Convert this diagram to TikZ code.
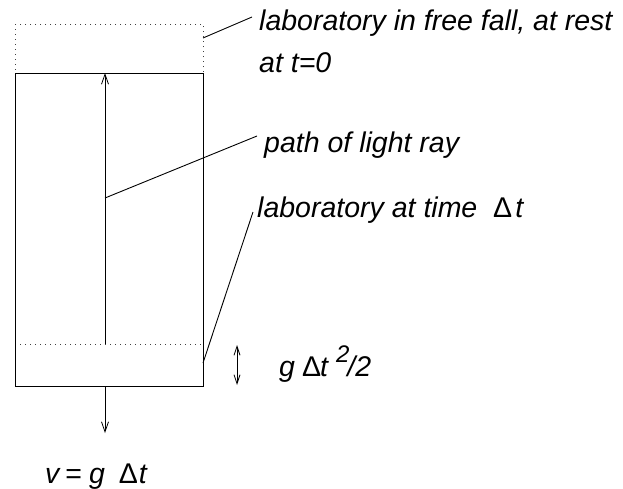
\documentclass[tikz,border=0pt]{standalone}
\usepackage{fontspec}
\setmainfont{Liberation Sans}
\usetikzlibrary{arrows.meta}
\tikzset{
  lbl/.style={anchor=base west, inner sep=0pt, font=\fontsize{28.5}{34}\selectfont\itshape},
  thin line/.style={line width=0.9pt, black},
  dotline/.style={line width=1pt, dash pattern=on 1pt off 4pt, black!75},
  arr/.style={-{Straight Barb[length=10pt,width=7pt,line width=0.8pt]}},
  darr/.style={{Straight Barb[length=9pt,width=6pt,line width=0.8pt]}-{Straight Barb[length=9pt,width=6pt,line width=0.8pt]}}
}
\begin{document}
\begin{tikzpicture}[x=1pt,y=-1pt]
\useasboundingbox (0,0) rectangle (623,488);
% old laboratory (dotted)
\draw[dotline] (15,24) rectangle (203,344);
% laboratory at time Delta t
\draw[thin line] (15,73) rectangle (203,386);
% coordinates
\coordinate (raybot) at (105,344);
\coordinate (raytop) at (105,73);
\coordinate (labbot) at (105,386);
\coordinate (vtip) at (105,433);
\coordinate (dtop) at (237,345);
\coordinate (dbot) at (237,385);
\coordinate (c1a) at (203,38);  \coordinate (c1b) at (252,17);
\coordinate (c2a) at (105,198); \coordinate (c2b) at (257,136);
\coordinate (c3a) at (203,363); \coordinate (c3b) at (253,212);
% light ray
\draw[thin line, arr] (raybot) -- (raytop);
% velocity arrow
\draw[thin line, arr] (labbot) -- (vtip);
% displacement arrow
\draw[thin line, darr] (dtop) -- (dbot);
% leaders
\draw[thin line] (c1a) -- (c1b);
\draw[thin line] (c2a) -- (c2b);
\draw[thin line] (c3a) -- (c3b);
% labels
\node[lbl] (t1) at (259,30) {laboratory in free fall, at rest};
\node[lbl] (t1b) at (259,72) {at t=0};
\node[lbl] (t2) at (264,152) {path of light ray};
\node[lbl] (t3) at (257,217) {laboratory at time\ \ {\upshape Δ}\kern3pt t};
\node[lbl] (t4) at (279,376) {g\kern7pt{\upshape Δ}\kern-1pt t\kern8pt\raisebox{14pt}{\fontsize{24}{24}\selectfont 2}\kern-2pt/2};
\node[lbl] (t5) at (45,483) {v\kern6pt{\upshape =}\kern7pt g\kern14pt{\upshape Δ}\kern1pt t};
\end{tikzpicture}
\end{document}
